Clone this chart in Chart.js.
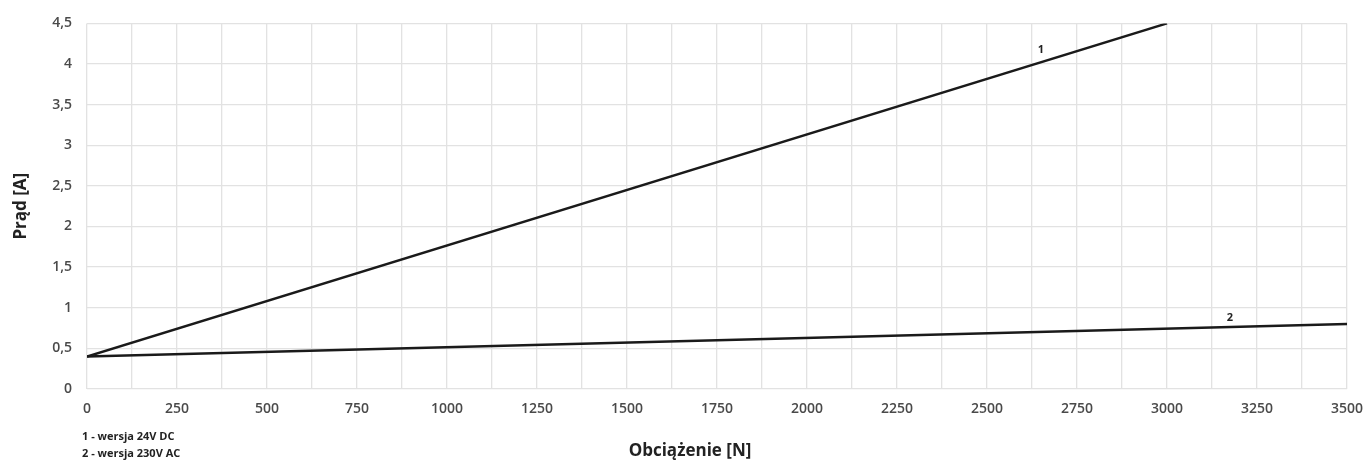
<!DOCTYPE html>
<html>
<head>
<meta charset="utf-8">
<script src="https://cdn.jsdelivr.net/npm/chart.js@4"></script>
<style>
  html, body { margin: 0; padding: 0; background: #fff; }
  #wrap { width: 1366px; height: 464px; }
</style>
</head>
<body>
<div id="wrap"><canvas id="c"></canvas></div>
<script>
// data
const seriesNames = ['1', '2'];
const line1 = [{x: 0, y: 0.4}, {x: 3000, y: 4.5}];
const line2 = [{x: 0, y: 0.4}, {x: 3500, y: 0.8}];
const curveLabels = [{text: '1', x: 2650, y: 4.17}, {text: '2', x: 3175, y: 0.88}];
const legendLines = ['1 - wersja 24V DC', '2 - wersja 230V AC'];
const xTitle = 'Obciążenie [N]';
const yTitle = 'Prąd [A]';

const FONT = "'Open Sans', sans-serif";

const extras = {
  id: 'extras',
  afterDraw(chart) {
    const c = chart.ctx;
    const xs = chart.scales.x, ys = chart.scales.y;
    c.save();
    c.fillStyle = '#222';
    c.textAlign = 'center';
    c.textBaseline = 'middle';
    c.font = "bold 11px " + FONT;
    curveLabels.forEach(l => {
      c.fillText(l.text, xs.getPixelForValue(l.x), ys.getPixelForValue(l.y));
    });
    c.font = "bold 17px " + FONT;
    c.fillText(xTitle, 690, 451);
    c.textAlign = 'left';
    c.font = "bold 11px " + FONT;
    legendLines.forEach((t, i) => c.fillText(t, 82, 437 + i * 17));
    c.restore();
  }
};

new Chart(document.getElementById('c'), {
  type: 'scatter',
  data: {
    datasets: [
      { label: seriesNames[0], data: line1, showLine: true, borderColor: '#1a1a1a', borderWidth: 2.5, pointRadius: 0 },
      { label: seriesNames[1], data: line2, showLine: true, borderColor: '#1a1a1a', borderWidth: 2.5, pointRadius: 0 }
    ]
  },
  options: {
    responsive: true,
    maintainAspectRatio: false,
    animation: false,
    layout: { padding: { left: 0, right: 4, top: 21, bottom: 0 } },
    plugins: { legend: { display: false }, tooltip: { enabled: false } },
    scales: {
      x: {
        type: 'linear', min: 0, max: 3500,
        border: { display: false },
        grid: { color: '#e2e2e2', lineWidth: 1.3, drawTicks: false },
        afterFit: s => { s.height = 75; s.paddingRight = 19; },
        afterBuildTicks: s => {
          const t = [];
          for (let v = 0; v <= 3500; v += 125) t.push({ value: v });
          s.ticks = t;
        },
        ticks: {
          autoSkip: false, maxRotation: 0, padding: 12,
          color: '#4a4a4a', font: { family: FONT, size: 14, weight: '600' },
          callback: v => (v % 250 === 0 ? String(v) : '')
        }
      },
      y: {
        min: 0, max: 4.5,
        border: { display: false },
        grid: { color: '#e2e2e2', lineWidth: 1.3, drawTicks: false },
        afterFit: s => { s.width = 87; },
        ticks: {
          stepSize: 0.5, padding: 15,
          color: '#4a4a4a', font: { family: FONT, size: 14, weight: '600' },
          callback: v => String(v).replace('.', ',')
        },
        title: { display: true, text: yTitle, color: '#222', padding: { top: 11, bottom: 0 }, font: { family: FONT, size: 17, weight: 'bold' } }
      }
    }
  },
  plugins: [extras]
});
</script>
</body>
</html>
